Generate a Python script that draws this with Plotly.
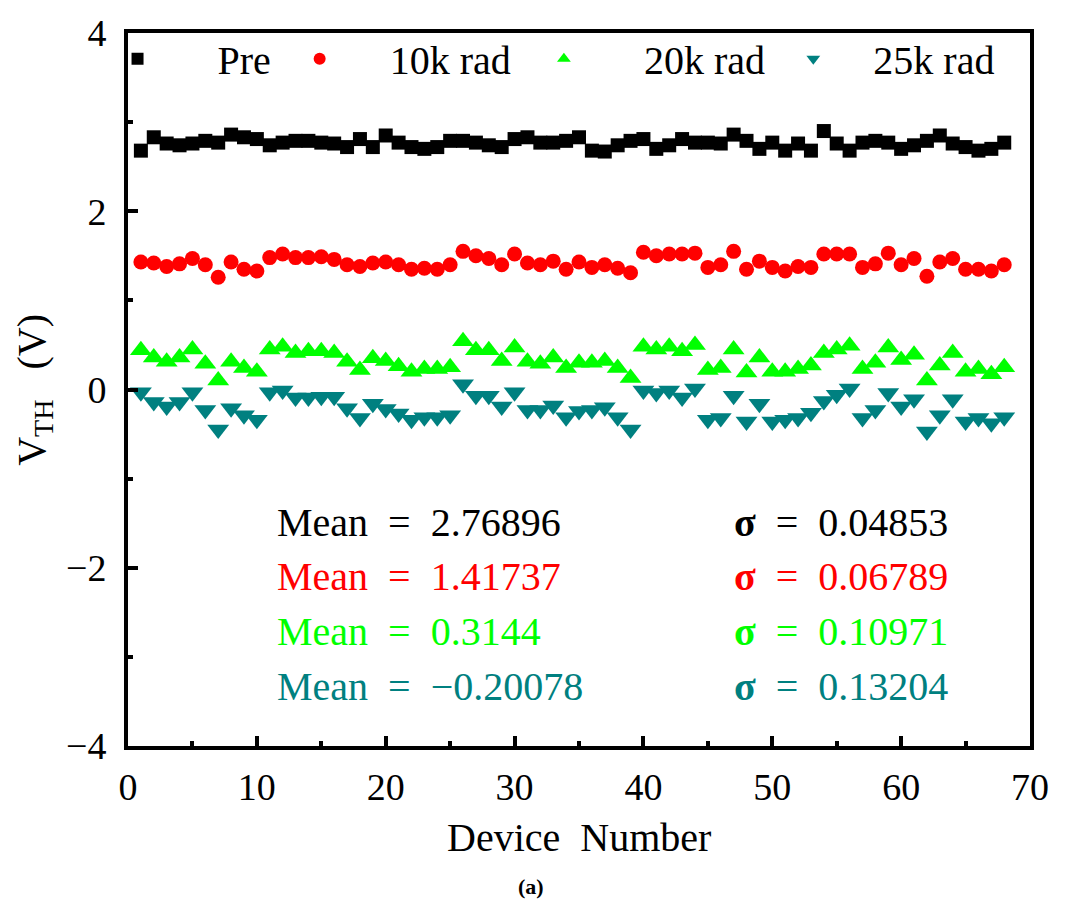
import plotly.graph_objects as go

device = list(range(1, 69))

pre = [2.68, 2.83, 2.76, 2.74, 2.76, 2.79, 2.77, 2.86, 2.83, 2.81,
       2.74, 2.77, 2.79, 2.79, 2.77, 2.76, 2.72, 2.81, 2.72, 2.85,
       2.77, 2.72, 2.70, 2.72, 2.79, 2.79, 2.77, 2.74, 2.72, 2.81,
       2.83, 2.77, 2.77, 2.79, 2.83, 2.68, 2.67, 2.74, 2.79, 2.81,
       2.70, 2.74, 2.81, 2.77, 2.77, 2.76, 2.86, 2.79, 2.70, 2.77,
       2.68, 2.76, 2.68, 2.90, 2.76, 2.68, 2.77, 2.79, 2.77, 2.70,
       2.74, 2.79, 2.85, 2.76, 2.72, 2.68, 2.70, 2.77]

rad10k = [1.43, 1.42, 1.38, 1.41, 1.47, 1.40, 1.26, 1.43, 1.35, 1.33,
          1.48, 1.52, 1.48, 1.48, 1.49, 1.46, 1.40, 1.38, 1.42, 1.43,
          1.40, 1.35, 1.36, 1.35, 1.40, 1.55, 1.50, 1.47, 1.40, 1.52,
          1.42, 1.40, 1.44, 1.35, 1.43, 1.37, 1.40, 1.36, 1.31, 1.54,
          1.50, 1.52, 1.52, 1.53, 1.37, 1.40, 1.55, 1.35, 1.44, 1.37,
          1.33, 1.38, 1.37, 1.52, 1.52, 1.52, 1.37, 1.41, 1.53, 1.40,
          1.47, 1.27, 1.43, 1.47, 1.35, 1.35, 1.33, 1.40]

rad20k = [0.44, 0.36, 0.31, 0.36, 0.45, 0.29, 0.10, 0.31, 0.24, 0.20,
          0.45, 0.48, 0.41, 0.43, 0.43, 0.41, 0.31, 0.22, 0.35, 0.32,
          0.26, 0.20, 0.23, 0.23, 0.25, 0.54, 0.44, 0.44, 0.32, 0.47,
          0.31, 0.29, 0.36, 0.24, 0.30, 0.30, 0.32, 0.24, 0.13, 0.48,
          0.45, 0.48, 0.43, 0.50, 0.22, 0.24, 0.45, 0.19, 0.36, 0.20,
          0.20, 0.23, 0.27, 0.41, 0.45, 0.49, 0.23, 0.30, 0.47, 0.33,
          0.39, 0.10, 0.27, 0.41, 0.20, 0.23, 0.17, 0.25]

rad25k = [-0.03, -0.14, -0.19, -0.14, -0.03, -0.23, -0.45, -0.21, -0.29, -0.34,
          -0.03, -0.01, -0.09, -0.09, -0.08, -0.08, -0.21, -0.32, -0.16, -0.22,
          -0.27, -0.34, -0.31, -0.31, -0.29, 0.06, -0.07, -0.07, -0.19, -0.03,
          -0.23, -0.23, -0.18, -0.31, -0.24, -0.23, -0.20, -0.31, -0.45, -0.01,
          -0.04, -0.01, -0.09, 0.01, -0.34, -0.32, -0.07, -0.36, -0.16, -0.36,
          -0.34, -0.32, -0.26, -0.13, -0.06, 0.01, -0.32, -0.23, -0.04, -0.19,
          -0.11, -0.47, -0.29, -0.11, -0.36, -0.32, -0.38, -0.31]

series_names = ["Pre", "10k rad", "20k rad", "25k rad"]
series_colors = ["#000000", "#FF0000", "#00FF00", "#008080"]
mean_labels = ["2.76896", "1.41737", "0.3144", "-0.20078"]
sigma_labels = ["0.04853", "0.06789", "0.10971", "0.13204"]

SERIF = "'Liberation Serif', 'Times New Roman', Times, serif"
NB = "\u00a0"
GAP = NB * 2

fig = go.Figure()

specs = [
    (pre, "square", 14, NB * 6 + series_names[0], "legend", -0.0116),
    (rad10k, "circle", 15, NB * 5 + series_names[1], "legend2", 0.1903),
    (rad20k, "triangle-up", 19, NB * 6 + series_names[2], "legend3", 0.4611),
    (rad25k, "triangle-down", 19, NB * 4 + series_names[3], "legend4", 0.7376),
]

for i, (vals, sym, size, name, leg, lx) in enumerate(specs):
    fig.add_trace(go.Scatter(
        x=device, y=vals, mode="markers", name=name,
        marker=dict(symbol=sym, size=size, color=series_colors[i],
                    line=dict(width=0)),
        legend=leg,
    ))

legend_common = dict(
    orientation="h", yanchor="middle", y=0.964, xanchor="left",
    bgcolor="rgba(0,0,0,0)", borderwidth=0,
    font=dict(family=SERIF, size=40, color="black"),
    itemsizing="constant",
)
fig.update_layout(
    legend=dict(x=specs[0][5], **legend_common),
    legend2=dict(x=specs[1][5], **legend_common),
    legend3=dict(x=specs[2][5], **legend_common),
    legend4=dict(x=specs[3][5], **legend_common),
)

# statistics text
ys = [0.3140, 0.2381, 0.1608, 0.0835]
for i in range(4):
    mean_txt = mean_labels[i].replace("-", "\u2212")
    fig.add_annotation(xref="paper", yref="paper", x=0.163, y=ys[i],
                       xanchor="left", yanchor="middle", showarrow=False,
                       text="Mean" + GAP + "=" + GAP + mean_txt,
                       font=dict(family=SERIF, size=40, color=series_colors[i]))
    fig.add_annotation(xref="paper", yref="paper", x=0.670, y=ys[i],
                       xanchor="left", yanchor="middle", showarrow=False,
                       text="<b>σ</b>" + GAP + "=" + GAP + sigma_labels[i],
                       font=dict(family=SERIF, size=40, color=series_colors[i]))

# axis titles
fig.add_annotation(xref="paper", yref="paper", x=0.5, y=-0.129,
                   xanchor="center", yanchor="middle", showarrow=False,
                   text="Device" + NB * 2 + "Number",
                   font=dict(family=SERIF, size=40, color="black"))
fig.add_annotation(xref="paper", yref="paper", x=-0.105, y=0.50,
                   xanchor="center", yanchor="middle", showarrow=False,
                   textangle=-90,
                   text="V<sub>TH</sub>" + NB * 3 + "(V)",
                   font=dict(family=SERIF, size=40, color="black"))
fig.add_annotation(xref="paper", yref="paper", x=0.4467, y=-0.1967,
                   xanchor="center", yanchor="middle", showarrow=False,
                   text="<b>(a)</b>",
                   font=dict(family=SERIF, size=22, color="black"))

axis_common = dict(
    showgrid=False, zeroline=False,
    showline=True, linewidth=4, linecolor="black", mirror=True,
    ticks="inside", ticklen=10, tickwidth=4, tickcolor="black",
    tickfont=dict(family=SERIF, size=38, color="black"),
)

fig.update_xaxes(range=[0, 70], tick0=0, dtick=10,
                 minor=dict(ticks="inside", ticklen=5, tickwidth=4,
                            tickcolor="black", dtick=5, showgrid=False),
                 ticklabelstandoff=4, **axis_common)
fig.update_yaxes(range=[-4, 4], tick0=-4, dtick=2,
                 minor=dict(ticks="inside", ticklen=5, tickwidth=4,
                            tickcolor="black", dtick=1, showgrid=False),
                 ticklabelstandoff=10, **axis_common)

fig.update_layout(
    width=1069, height=904,
    margin=dict(l=128, r=39, t=21, b=158),
    plot_bgcolor="white", paper_bgcolor="white",
    showlegend=True,
)

fig.write_html("out.html")
